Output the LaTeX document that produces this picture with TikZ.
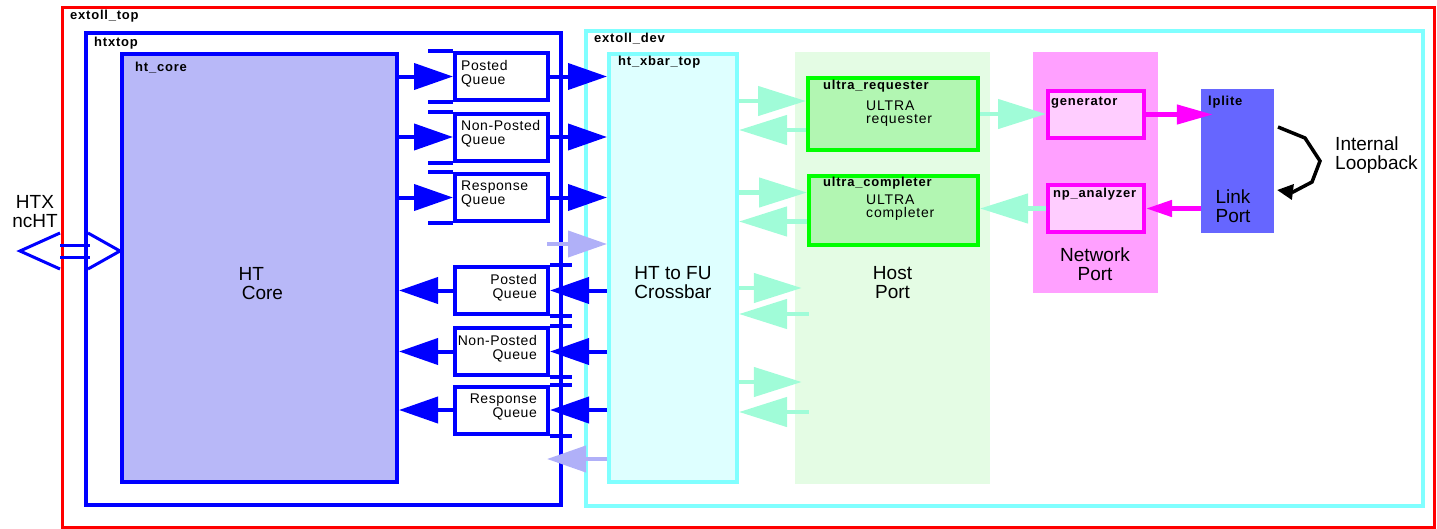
\documentclass[tikz,border=0pt]{standalone}
\usepackage{fontspec}
\setmainfont{Liberation Sans}
\usepackage{xcolor}
\usetikzlibrary{positioning,arrows.meta,fit}

\definecolor{xred}{RGB}{255,0,0}
\definecolor{xblue}{RGB}{0,0,255}
\definecolor{corefill}{RGB}{184,184,248}
\definecolor{lavender}{RGB}{176,176,248}
\definecolor{xcyan}{RGB}{128,255,255}
\definecolor{xbarfill}{RGB}{222,255,255}
\definecolor{aqua}{RGB}{160,252,216}
\definecolor{hostfill}{RGB}{228,252,228}
\definecolor{xgreen}{RGB}{0,255,0}
\definecolor{ultrafill}{RGB}{178,246,178}
\definecolor{netfill}{RGB}{255,160,255}
\definecolor{xmagenta}{RGB}{255,0,255}
\definecolor{genfill}{RGB}{255,205,255}
\definecolor{linkfill}{RGB}{102,102,255}

\begin{document}
\begin{tikzpicture}[
  x=1pt, y=-1pt,
  font=\fontsize{19}{19}\selectfont,
  frame/.style={draw, line width=3.5pt, inner sep=0pt},
  region/.style={inner sep=0pt},
  tag/.style={font=\bfseries\fontsize{13}{13}\selectfont\addfontfeatures{LetterSpace=6}, anchor=north west, inner sep=0pt},
  bigtxt/.style={align=center, inner sep=0pt},
  qtxt/.style={font=\fontsize{14}{14}\selectfont\addfontfeatures{LetterSpace=4}, inner sep=0pt},
  utxt/.style={font=\fontsize{14}{13}\selectfont\addfontfeatures{LetterSpace=6}, align=left, anchor=west, inner sep=0pt},
  qbox/.style={frame, draw=xblue, line width=4pt, minimum width=93pt, minimum height=47pt},
  qedge/.style={draw=xblue, line width=4pt},
  barrow/.style={draw=xblue, line width=4pt, -{Triangle[length=39pt, width=26pt]}},
  larrow/.style={draw=lavender, line width=4pt, -{Triangle[length=39pt, width=26pt]}},
  aarrow/.style={draw=aqua, line width=4.5pt, -{Triangle[length=48pt, width=29pt]}},
  marrow/.style={draw=xmagenta, line width=4.5pt, -{Triangle[length=36pt, width=19pt]}},
]

\useasboundingbox (0,0) rectangle (1437,528);

% Outer frames
\node[frame, draw=xred, line width=3pt, fit={(62,7) (1434,527)}] (top) {};
\node[tag] (toptag) at (70,10) {extoll\_top};

\node[frame, draw=xblue, fit={(86,33) (561,505)}] (htx) {};
\node[tag] (htxtag) at (94,37) {htxtop};

\node[frame, draw=xcyan, fit={(586,31) (1423,506)}] (dev) {};
\node[tag] (devtag) at (594,33) {extoll\_dev};

% HT core and crossbar
\node[frame, draw=xblue, line width=4pt, fill=corefill, fit={(122,54) (397,482)}] (core) {};
\node[tag] (coretag) at (135,62) {ht\_core};
\node[bigtxt, align=left, anchor=west] (coretxt) at ([xshift=-21pt, yshift=-16pt]core.center) {HT\\\,Core};

\node[frame, draw=xcyan, line width=4pt, fill=xbarfill, fit={(609,54) (737,482)}] (xbar) {};
\node[tag] (xbartag) at (618,56) {ht\_xbar\_top};
\node[bigtxt] (xbartxt) at ([yshift=-15pt]xbar.center) {HT to FU\\Crossbar};

% HTX port
\node[bigtxt] (htxtxt) at (35,212) {HTX\\ncHT};
\coordinate (portL) at (20,251);
\draw[xblue, line width=3pt] (60,233) -- (portL) -- (60,269);
\draw[xblue, line width=3pt] (88,233) -- (core.west |- portL) -- (88,269);
\draw[xblue, line width=3pt] (60,245) -- (90,245) (60,257) -- (90,257);

% Queues towards the crossbar
\foreach \n/\y/\txt in {1/76.5/Posted, 2/137/Non-Posted, 3/197.5/Response} {
  \node[qbox] (pq\n) at (501.5,\y) {};
  \draw[qedge] (pq\n.north west) -- ++(-25,0);
  \draw[qedge] (pq\n.south west) -- ++(-25,0);
  \node[qtxt, align=left, anchor=west] (pqt\n) at ([shift={(8pt,3pt)}]pq\n.west) {\txt\\Queue};
  \draw[barrow] (core.east |- pq\n.west) -- (pq\n.west);
  \draw[barrow] (pq\n.east) -- (pq\n.east -| xbar.west);
}

% Queues towards the core
\foreach \n/\y/\txt in {1/290.5/Posted, 2/351.5/Non-Posted, 3/410/Response} {
  \node[qbox] (bq\n) at (501.5,\y) {};
  \draw[qedge] (bq\n.north east) -- ++(22,0);
  \draw[qedge] (bq\n.south east) -- ++(22,0);
  \node[qtxt, align=right, anchor=east] (bqt\n) at ([shift={(-13pt,3pt)}]bq\n.east) {\txt\\Queue};
  \draw[barrow] (xbar.west |- bq\n.east) -- (bq\n.east);
  \draw[barrow] (bq\n.west) -- (bq\n.west -| core.east);
}

% Side channel
\coordinate (lvA) at (547,244);
\coordinate (lvB) at (547,459);
\draw[larrow] (lvA) -- (lvA -| xbar.west);
\draw[larrow] (lvB -| xbar.west) -- (lvB);

% Host port
\node[region, fill=hostfill, fit={(795,52) (990,484)}] (host) {};
\node[bigtxt] (hosttxt) at ([yshift=-15pt]host.center) {Host\\Port};

\node[frame, draw=xgreen, line width=4pt, fill=ultrafill, fit={(808,78) (978,150)}] (req) {};
\node[tag] (reqtag) at (823,80) {ultra\_requester};
\node[utxt] (reqtxt) at (866,114) {ULTRA\\requester};

\node[frame, draw=xgreen, line width=4pt, fill=ultrafill, fit={(809,176) (978,245)}] (cmp) {};
\node[tag] (cmptag) at (823,177) {ultra\_completer};
\node[utxt] (cmptxt) at (866,208) {ULTRA\\completer};

\draw[aarrow] ([yshift=13pt]req.west -| xbar.east) -- ([yshift=13pt]req.west);
\draw[aarrow] ([yshift=-16pt]req.west) -- ([yshift=-16pt]req.west -| xbar.east);
\draw[aarrow] ([yshift=18pt]cmp.west -| xbar.east) -- ([yshift=18pt]cmp.west);
\draw[aarrow] ([yshift=-11pt]cmp.west) -- ([yshift=-11pt]cmp.west -| xbar.east);
\draw[aarrow] ([yshift=-20pt]host.west -| xbar.east) -- ([shift={(7pt,-20pt)}]host.west);
\draw[aarrow] ([shift={(14pt,-46pt)}]host.west) -- ([yshift=-46pt]host.west -| xbar.east);
\draw[aarrow] ([yshift=-114pt]host.west -| xbar.east) -- ([shift={(7pt,-114pt)}]host.west);
\draw[aarrow] ([shift={(14pt,-144pt)}]host.west) -- ([yshift=-144pt]host.west -| xbar.east);

% Network port
\node[region, fill=netfill, fit={(1033,52) (1158,293)}] (net) {};
\node[bigtxt] (nettxt) at (1095,264) {Network\\Port};

\node[frame, draw=xmagenta, line width=4pt, fill=genfill, fit={(1048,91) (1144,138)}] (gen) {};
\node[tag] (gentag) at (1051,97) {generator};
\node[frame, draw=xmagenta, line width=4pt, fill=genfill, fit={(1048,185) (1144,232)}] (npa) {};
\node[tag] (npatag) at (1053,188) {np\_analyzer};

\draw[aarrow] (req.east) -- (req.east -| gen.west);
\draw[aarrow] (npa.west) -- (npa.west -| cmp.east);

% Link port
\node[region, fill=linkfill, fit={(1201,89) (1274,233)}] (link) {};
\node[tag] (linktag) at (1208,96) {lplite};
\node[bigtxt, align=left] (linktxt) at (1233,206) {Link\\Port};

\draw[marrow] (gen.east) -- ([xshift=12pt]gen.east -| link.west);
\draw[marrow, -{Triangle[length=26pt, width=16pt]}] (link.west |- npa.east) -- (npa.east);

% Internal loopback
\node[bigtxt, align=left, anchor=west] (looptxt) at (1335,155) {Internal\\Loopback};
\coordinate (loopA) at (1278,127);
\coordinate (loopB) at (1277,190);
\draw[line width=3.5pt, -{Triangle[length=16pt, width=15pt]}] (loopA) -- (1305,138) -- (1320,161) -- (1312,182) -- (1293,192) -- (loopB);

\end{tikzpicture}
\end{document}
